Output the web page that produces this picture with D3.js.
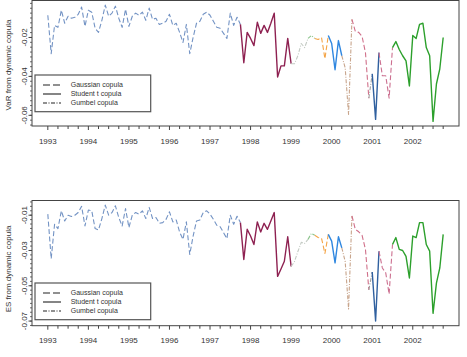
<!DOCTYPE html>
<html><head><meta charset="utf-8">
<script src="https://cdn.jsdelivr.net/npm/d3@7"></script>
<style>body{margin:0;background:#fff} svg text{font-family:"Liberation Sans",Arial,sans-serif}</style>
</head><body><svg id="c" width="467" height="357"></svg>
<script>
// monthly observations starting January 1993
const startYear = 1993;
const varValues = [
-0.0086,-0.0283,-0.0138,-0.0148,-0.0060,-0.0127,-0.0091,-0.0101,-0.0096,-0.0081,
-0.0044,-0.0143,-0.0060,-0.0070,-0.0153,-0.0174,-0.0112,-0.0034,-0.0091,-0.0075,
-0.0039,-0.0101,-0.0148,-0.0055,-0.0143,-0.0091,-0.0075,-0.0086,-0.0070,-0.0112,
-0.0049,-0.0107,-0.0101,-0.0133,-0.0127,-0.0117,-0.0081,-0.0138,-0.0127,-0.0174,
-0.0226,-0.0133,-0.0283,-0.0200,-0.0127,-0.0117,-0.0081,-0.0070,-0.0086,-0.0117,
-0.0148,-0.0153,-0.0179,-0.0205,-0.0075,-0.0138,-0.0096,-0.0133,-0.0330,-0.0174,
-0.0205,-0.0242,-0.0122,-0.0179,-0.0138,-0.0174,-0.0127,-0.0075,-0.0403,-0.0346,
-0.0346,-0.0205,-0.0335,-0.0335,-0.0294,-0.0231,-0.0252,-0.0205,-0.0190,-0.0205,
-0.0210,-0.0200,-0.0309,-0.0190,-0.0231,-0.0366,-0.0216,-0.0294,-0.0356,-0.0595,
-0.0107,-0.0169,-0.0174,-0.0195,-0.0278,-0.0512,-0.0387,-0.0621,-0.0278,-0.0397,
-0.0397,-0.0512,-0.0252,-0.0221,-0.0262,-0.0294,-0.0320,-0.0449,-0.0190,-0.0205,
-0.0133,-0.0127,-0.0252,-0.0294,-0.0631,-0.0439,-0.0361,-0.0200];
const esValues = [
-0.0094,-0.0347,-0.0151,-0.0176,-0.0075,-0.0133,-0.0100,-0.0107,-0.0100,-0.0085,
-0.0050,-0.0161,-0.0071,-0.0075,-0.0176,-0.0184,-0.0119,-0.0043,-0.0100,-0.0085,
-0.0047,-0.0113,-0.0161,-0.0062,-0.0170,-0.0100,-0.0085,-0.0094,-0.0075,-0.0119,
-0.0056,-0.0119,-0.0113,-0.0146,-0.0142,-0.0123,-0.0081,-0.0138,-0.0127,-0.0195,
-0.0237,-0.0138,-0.0323,-0.0218,-0.0133,-0.0127,-0.0085,-0.0075,-0.0094,-0.0123,
-0.0157,-0.0165,-0.0199,-0.0233,-0.0100,-0.0151,-0.0106,-0.0142,-0.0351,-0.0180,
-0.0218,-0.0266,-0.0138,-0.0195,-0.0146,-0.0180,-0.0133,-0.0085,-0.0447,-0.0405,
-0.0361,-0.0222,-0.0391,-0.0363,-0.0306,-0.0254,-0.0260,-0.0237,-0.0203,-0.0214,
-0.0226,-0.0231,-0.0317,-0.0209,-0.0247,-0.0370,-0.0222,-0.0285,-0.0363,-0.0631,
-0.0104,-0.0180,-0.0194,-0.0214,-0.0294,-0.0523,-0.0422,-0.0700,-0.0304,-0.0399,
-0.0427,-0.0547,-0.0266,-0.0227,-0.0294,-0.0300,-0.0333,-0.0456,-0.0218,-0.0227,
-0.0142,-0.0142,-0.0266,-0.0304,-0.0656,-0.0485,-0.0399,-0.0209];
// regime segments (indices into the monthly series)
const segBreaks = [0,57,72,77,79,83,87,90,95,96,98,102,117];
const segCopula = ["Gaussian","Student t","Gumbel","Gumbel","Gaussian","Student t","Gumbel","Gaussian","Gumbel","Student t","Gaussian","Student t"];
const segColors = ["#7393c4","#8e2151","#c4cbc4","#8cc48c","#f4a446","#2f87e0","#c8a58c","#d0708a","#a0a0a0","#30609f","#cc7090","#2ca02c"];
const yearTicks = [1993,1994,1995,1996,1997,1998,1999,2000,2001,2002];
const varTicks = [-0.02,-0.04,-0.06];
const esTicks = [-0.01,-0.03,-0.05,-0.07];
const legendLabels = ["Gaussian copula","Student t copula","Gumbel copula"];
const legendTypes = ["Gaussian","Student t","Gumbel"];
const titles = ["VaR from dynamic copula","ES from dynamic copula"];

const dashFor = {"Gaussian":"5,2.5","Student t":null,"Gumbel":"4,1.5,1,1.5"};
const svg = d3.select("#c");
const dates = varValues.map((_, i) => startYear + i / 12);

function padExtent(arr){
  const e = d3.extent(arr), p = (e[1]-e[0])*0.04;
  return [e[0]-p, e[1]+p];
}
const x = d3.scaleLinear().domain(padExtent(dates)).range([32, 459]);

const panels = [
  {vals: varValues, top: 0.5, bottom: 126, ticks: varTicks, title: titles[0], titleY: 65, legTop: 75},
  {vals: esValues, top: 200.5, bottom: 325.7, ticks: esTicks, title: titles[1], titleY: 269, legTop: 283}
];

panels.forEach(P => {
  const y = d3.scaleLinear().domain(padExtent(P.vals)).range([P.bottom, P.top]);
  const g = svg.append("g");
  // series segments
  const line = d3.line().x(i => x(dates[i])).y(i => y(P.vals[i]));
  for (let s = 0; s < segBreaks.length - 1; s++) {
    const idx = d3.range(segBreaks[s], segBreaks[s+1] + 1);
    const dash = dashFor[segCopula[s]];
    g.append("path").attr("d", line(idx)).attr("fill","none")
      .attr("stroke", segColors[s])
      .attr("stroke-width", dash ? 1.1 : 1.4)
      .attr("stroke-dasharray", dash)
      .attr("stroke-linejoin","round");
  }
  // box
  g.append("rect").attr("x",32).attr("y",P.top).attr("width",427).attr("height",P.bottom-P.top)
    .attr("fill","none").attr("stroke","#444").attr("stroke-width",1);
  // x axis
  const quarters = d3.range(0, 40).map(q => startYear + q/4);
  const xa = g.append("g").attr("transform",`translate(0,${P.bottom})`);
  xa.selectAll("line.q").data(quarters).join("line")
    .attr("x1",d=>x(d)).attr("x2",d=>x(d)).attr("y1",0)
    .attr("y2",d=> Number.isInteger(d) ? 4 : 3)
    .attr("stroke","#444").attr("stroke-width",1);
  xa.selectAll("text").data(yearTicks).join("text")
    .attr("x",d=>x(d)).attr("y",17.5).attr("text-anchor","middle")
    .attr("font-size",8).attr("fill","#333").text(d=>d);
  // y axis
  const dom = y.domain();
  const minor = d3.range(Math.ceil(dom[0]/0.0025), Math.floor(dom[1]/0.0025)+1).map(k => k*0.0025);
  g.selectAll("line.m").data(minor).join("line")
    .attr("x1",32).attr("x2",30).attr("y1",d=>y(d)).attr("y2",d=>y(d))
    .attr("stroke","#444").attr("stroke-width",0.8);
  g.selectAll("line.M").data(P.ticks).join("line")
    .attr("x1",32).attr("x2",28.5).attr("y1",d=>y(d)).attr("y2",d=>y(d))
    .attr("stroke","#444").attr("stroke-width",1);
  g.selectAll("text.yt").data(P.ticks).join("text")
    .attr("transform",d=>`translate(27.3,${y(d)}) rotate(-90)`)
    .attr("text-anchor","middle").attr("font-size",8).attr("fill","#333")
    .text(d=>d3.format(".2f")(d).replace("−","-"));
  // title
  g.append("text").attr("transform",`translate(10.5,${P.titleY}) rotate(-90)`)
    .attr("text-anchor","middle").attr("font-size",8).attr("fill","#333").text(P.title);
  // legend
  const lg = g.append("g");
  lg.append("rect").attr("x",35).attr("y",P.legTop).attr("width",115.7).attr("height",36.7)
    .attr("fill","#fff").attr("stroke","#555").attr("stroke-width",1.2);
  legendLabels.forEach((lab, k) => {
    const yy = P.legTop + 10 + k*9;
    lg.append("line").attr("x1",43).attr("x2",61).attr("y1",yy).attr("y2",yy)
      .attr("stroke","#222").attr("stroke-width",1.1)
      .attr("stroke-dasharray", dashFor[legendTypes[k]] ? (legendTypes[k]==="Gaussian" ? "7,3" : "4,1.5,1,1.5") : null);
    lg.append("text").attr("x",70.7).attr("y",yy).attr("dy","0.35em")
      .attr("font-size",7).attr("fill","#333").text(lab);
  });
});
</script></body></html>
